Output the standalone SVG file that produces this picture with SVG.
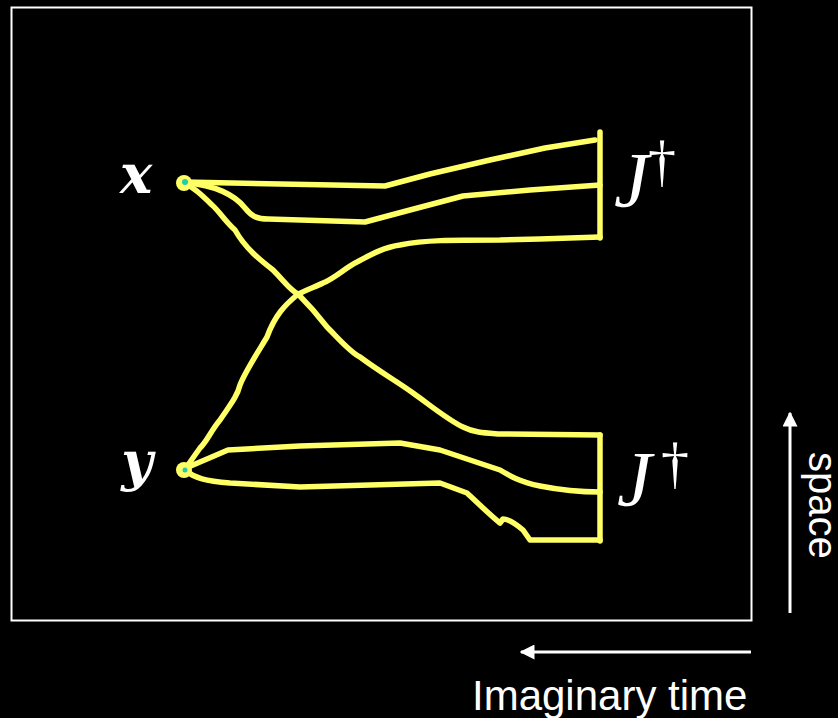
<svg xmlns="http://www.w3.org/2000/svg" width="838" height="718" viewBox="0 0 838 718">
<style>
.p{fill:none;stroke:#ffff66;stroke-width:5.5;stroke-linecap:round;stroke-linejoin:round}
.ax{stroke:#fff;stroke-width:3;fill:none}
.lbl{fill:#fff;font-family:"DejaVu Serif","Liberation Serif",serif;font-style:italic;font-weight:bold}
.J{fill:#fff;font-family:"Liberation Serif","DejaVu Serif",serif;font-style:italic}
.d{fill:#fff;font-family:"Liberation Serif","DejaVu Serif",serif}
.t{fill:#fff;font-family:"Liberation Sans",Arial,sans-serif;font-size:42px}
</style>
<defs>
<marker id="ah" viewBox="0 0 10 10" refX="9" refY="5" markerWidth="5" markerHeight="5" orient="auto" markerUnits="strokeWidth">
<path d="M0,0 L10,5 L0,10 z" fill="#fff"/>
</marker>
</defs>
<rect width="838" height="718" fill="#000"/>
<rect x="11.5" y="7.5" width="740" height="613" fill="none" stroke="#fff" stroke-width="2"/>
<g id="connectors">
<path class="p" d="M184,182 L385,186 L430,174 L490,160 L545,148 L595,140"/>
<path class="p" d="M186,183 C215,185 235,195 245,208 C252,217 258,219 268,219 L365,222 L410,210 L463,196 L530,190 L600,185"/>
<path class="p" d="M186,184 C195,188 205,198 212,205 C220,212 224,220 235,230 C245,248 260,260 273,270 C285,282 290,290 298,294 C312,308 320,318 327,327 C340,340 350,352 360,357 C380,372 398,382 413,393 C430,405 448,420 463,427 C475,433 485,433 500,434 L600,435"/>
<path class="p" d="M186,468 C190,462 195,455 200,448 C208,440 210,432 220,420 C230,405 237,397 240,385 C245,372 258,352 267,337 C275,315 285,305 297,295 C305,290 315,287 323,283 C335,278 345,268 357,262 C372,254 385,247 400,245 C425,240 450,240 500,240 L540,239 L600,237"/>
<path class="p" d="M186,468 L228,450 L300,446 L400,443 L440,450 L500,470 C510,476 520,482 540,486 C560,490 580,492 600,492"/>
<path class="p" d="M186,471 C195,478 205,481 230,483 L300,487 L440,483 L467,493 C480,505 490,515 500,523 L503,519 C508,519 515,523 523,530 L530,540 L600,540"/>
<path class="p" d="M600,132 L600,238"/>
<path class="p" d="M600,435 L600,541"/>
<line class="ax" x1="790" y1="613" x2="790" y2="413" marker-end="url(#ah)"/>
<line class="ax" x1="751" y1="652" x2="521" y2="652" marker-end="url(#ah)"/>
</g>
<g id="node-x">
<circle cx="184" cy="183" r="8" fill="#ffff66"/>
<circle cx="185" cy="182" r="3" fill="#22ccaa"/>
<text class="lbl" x="136" y="193" font-size="54" text-anchor="middle">x</text>
</g>
<g id="node-y">
<circle cx="184" cy="470" r="8" fill="#ffff66"/>
<circle cx="185" cy="470" r="2.5" fill="#22ccaa"/>
<text class="lbl" x="137" y="480" font-size="54" text-anchor="middle">y</text>
</g>
<g id="J-top">
<text class="J" x="614" y="206" font-size="78">J</text>
<text class="d" x="648" y="180" font-size="56">†</text>
</g>
<g id="J-bottom">
<text class="J" x="617" y="505" font-size="78">J</text>
<text class="d" x="661" y="482" font-size="56">†</text>
</g>
<text class="t" transform="translate(809,452) rotate(90)" style="font-size:40px">space</text>
<text class="t" x="472" y="710">Imaginary time</text>
</svg>
